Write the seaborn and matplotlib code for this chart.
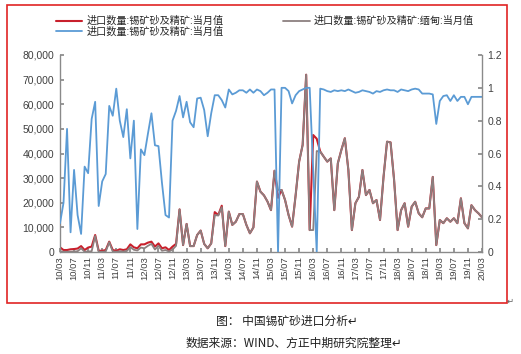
import numpy as np
import pandas as pd
import matplotlib
matplotlib.use('Agg')
import matplotlib.pyplot as plt
import seaborn as sns
from matplotlib.patches import Rectangle
from matplotlib.ticker import FuncFormatter

# monthly data 2010/03 - 2020/03
months = pd.date_range('2010-03-01', '2020-03-01', freq='MS')

# total imports (tonnes), left axis
total_imports = [1900, 800, 800, 1100, 1200, 1400, 2400, 800, 1800, 2200,
                 6900, 500, 500, 800, 4200, 800, 500, 1100, 800, 1100,
                 3100, 1900, 1500, 3100, 3100, 3800, 4200, 2200, 3500, 1500,
                 1900, 800, 2200, 3300, 17300, 2800, 11400, 2400, 2400, 6900,
                 8700, 3300, 1500, 3500, 16200, 15000, 18800, 2400, 16400, 11000,
                 12300, 15400, 15400, 11000, 7600, 10000, 28600, 24500, 23000, 20500,
                 17000, 33000, 22000, 25200, 21100, 15000, 10300, 23000, 36700, 43500,
                 72000, 8900, 47500, 46000, 40800, 38700, 36700, 38000, 17000, 36000,
                 41400, 46200, 33300, 8900, 19800, 22400, 33300, 23100, 25200, 19800,
                 21100, 13000, 30500, 44800, 44500, 29300, 8900, 17000, 19800, 10300,
                 18400, 20400, 15700, 14100, 17700, 17700, 30500, 2800, 13000, 11700,
                 13700, 12300, 13700, 11700, 21800, 11700, 9600, 19000, 17000, 15700,
                 14100]

# imports from Myanmar (tonnes), left axis
myanmar_imports = [300, 100, 100, 100, 200, 300, 1500, 100, 200, 300,
                   6500, 100, 100, 200, 4000, 200, 100, 300, 200, 400,
                   2000, 900, 600, 1800, 1500, 2500, 3300, 1000, 2500, 500,
                   800, 200, 1000, 2500, 17300, 2800, 11400, 2400, 2400, 6900,
                   8700, 3300, 1500, 3500, 15000, 14800, 18200, 2400, 16400, 11000,
                   12300, 15400, 15400, 11000, 7600, 10000, 28600, 24500, 23000, 20500,
                   17000, 33000, 25200, 25200, 21100, 15000, 10300, 23000, 36700, 43500,
                   72000, 8900, 8900, 41000, 40800, 38700, 36700, 38000, 17000, 36000,
                   41400, 46200, 33300, 8900, 19800, 22400, 33300, 23100, 25200, 19800,
                   21100, 13000, 30500, 44800, 44500, 29300, 8900, 17000, 19800, 10300,
                   18400, 20400, 15700, 14100, 17700, 17700, 30500, 2800, 13000, 11700,
                   13700, 12300, 13700, 11700, 21800, 11700, 9600, 19000, 17000, 15700,
                   14100]

# right axis series
share = [0.175, 0.30, 0.75, 0.12, 0.50, 0.225, 0.11, 0.52, 0.48, 0.81,
         0.915, 0.28, 0.43, 0.475, 0.89, 0.83, 0.995, 0.80, 0.70, 0.87,
         0.57, 0.80, 0.14, 0.625, 0.59, 0.72, 0.845, 0.65, 0.645, 0.42,
         0.225, 0.21, 0.80, 0.86, 0.95, 0.82, 0.915, 0.79, 0.76, 0.935,
         0.94, 0.865, 0.705, 0.845, 0.955, 0.955, 0.925, 0.88, 0.99, 0.96,
         0.97, 0.985, 0.985, 0.97, 0.99, 0.97, 0.99, 0.98, 0.955, 0.97,
         0.99, 0.99, 0.0, 1.0, 1.0, 0.98, 0.905, 0.955, 0.98, 0.99,
         1.0, 1.0, 0.5, 0.0, 0.995, 0.99, 0.98, 0.975, 0.985, 0.98,
         0.985, 0.98, 0.99, 0.98, 0.97, 0.975, 0.985, 0.98, 0.975, 0.965,
         0.98, 0.975, 0.985, 0.99, 0.985, 0.985, 0.975, 0.99, 0.985, 0.98,
         0.99, 0.995, 0.99, 0.965, 0.965, 0.965, 0.96, 0.78, 0.92, 0.95,
         0.955, 0.92, 0.955, 0.92, 0.945, 0.945, 0.90, 0.945, 0.945, 0.945,
         0.945]

label_total = '进口数量:锡矿砂及精矿:当月值'
label_share = '进口数量:锡矿砂及精矿:当月值'
label_myanmar = '进口数量:锡矿砂及精矿:缅甸:当月值'

df = pd.DataFrame({'idx': np.arange(len(months)),
                   'total': total_imports,
                   'myanmar': myanmar_imports,
                   'share': share})

RED = '#c8202c'
GRAY = '#8c8080'
BLUE = '#5b9bd5'
AXIS = '#8a8a8a'
TXT = '#404040'

sns.set_theme(style='white')
plt.rcParams['font.family'] = ['Liberation Sans', 'Noto Sans CJK SC', 'DejaVu Sans']

fig = plt.figure(figsize=(5.21, 3.54), dpi=100)
ax = fig.add_axes([60 / 521, 1 - 252 / 354, 422 / 521, 197 / 354])
ax2 = ax.twinx()

sns.lineplot(data=df, x='idx', y='total', ax=ax, color=RED, lw=1.5, legend=False)
sns.lineplot(data=df, x='idx', y='myanmar', ax=ax, color=GRAY, lw=1.3, legend=False)
sns.lineplot(data=df, x='idx', y='share', ax=ax2, color=BLUE, lw=1.3, legend=False)

ax.set_xlim(0, len(months) - 1)
ax.set_ylim(0, 80000)
ax2.set_ylim(0, 1.2)

ax.set_xticks(df['idx'][::4])
ax.set_xticklabels(months[::4].strftime('%y/%m'), rotation=90)
ax.set_yticks(np.arange(0, 80001, 10000))
ax.yaxis.set_major_formatter(FuncFormatter(lambda v, p: f'{int(v):,}'))
ax2.set_yticks(np.arange(0, 1.21, 0.2))
ax2.yaxis.set_major_formatter(FuncFormatter(lambda v, p: f'{v:g}'))

for a in (ax, ax2):
    a.set_xlabel('')
    a.set_ylabel('')
    for s in a.spines.values():
        s.set_visible(False)
ax.spines['left'].set_visible(True)
ax.spines['bottom'].set_visible(True)
ax2.spines['right'].set_visible(True)
for s in (ax.spines['left'], ax.spines['bottom'], ax2.spines['right']):
    s.set_color(AXIS)
    s.set_linewidth(1.0)

ax.tick_params(axis='y', left=True, direction='in', length=3, color=AXIS,
               labelsize=7.5, labelcolor=TXT, pad=4)
ax.tick_params(axis='x', bottom=True, direction='in', length=3, color=AXIS,
               labelsize=6.8, labelcolor=TXT, pad=3)
ax2.tick_params(axis='y', right=True, direction='in', length=3, color=AXIS,
                labelsize=7.5, labelcolor=TXT, pad=4)

# legend: red and blue in first column, gray in second
h_red, h_gray = ax.lines[0], ax.lines[1]
h_blue = ax2.lines[0]
fig.legend([h_red, h_blue, h_gray], [label_total, label_share, label_myanmar],
           loc='upper left', bbox_to_anchor=(56 / 521, 1 - 16 / 354), ncol=2,
           frameon=False, fontsize=7.3, handlelength=2.6, handletextpad=0.4,
           columnspacing=5.9, labelspacing=0.0, borderpad=0, borderaxespad=0)

# red frame around chart
fig.patches.append(Rectangle((7 / 521, 1 - 303 / 354), 500 / 521, 298 / 354,
                             transform=fig.transFigure, fill=False,
                             edgecolor='#e02424', lw=1.2))

fig.text(510 / 521, 1 - 301 / 354, '↵', fontsize=6, color='#606060',
         ha='center', va='center', family=['DejaVu Sans'])
fig.text(287 / 521, 1 - 321 / 354, '图： 中国锡矿砂进口分析↵', fontsize=8.5,
         color='#202020', ha='center', va='center',
         family=['Noto Sans CJK SC', 'DejaVu Sans'])
fig.text(294 / 521, 1 - 343 / 354, '数据来源：WIND、方正中期研究院整理↵', fontsize=8.5,
         color='#202020', ha='center', va='center',
         family=['Noto Sans CJK SC', 'DejaVu Sans'])

fig.savefig('out.png', dpi=100)
